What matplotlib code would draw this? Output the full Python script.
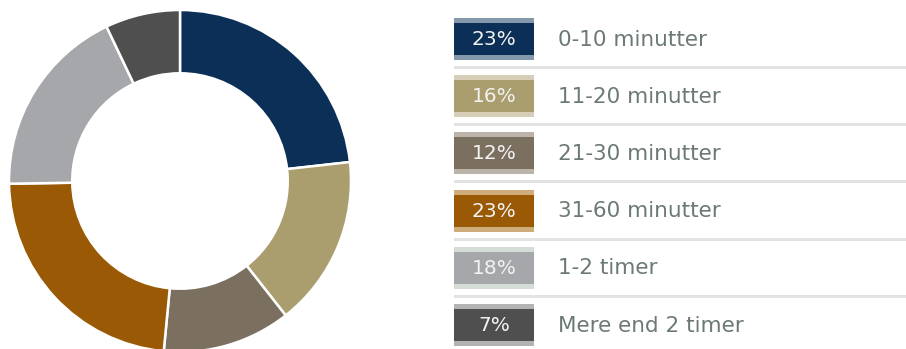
import matplotlib
matplotlib.use("Agg")
import matplotlib.pyplot as plt
from matplotlib.patches import Rectangle

categories = ["0-10 minutter", "11-20 minutter", "21-30 minutter", "31-60 minutter", "1-2 timer", "Mere end 2 timer"]
values = [23, 16, 12, 23, 18, 7]
colors = ["#0b2f56", "#aa9e6e", "#7b6f60", "#9a5a05", "#a6a7aa", "#4f4f4f"]
band_colors = ["#8398ab", "#d6cfb8", "#bcb3aa", "#cfac7c", "#d6dcd6", "#b3b3b3"]

W, H = 906, 349
fig = plt.figure(figsize=(W / 100, H / 100), dpi=100)
ax = fig.add_axes([0, 0, 1, 1])
ax.set_xlim(0, W)
ax.set_ylim(0, H)
ax.axis("off")

# donut
cx, cy, r = 180, H - 181, 171
ax.pie(values, colors=colors, startangle=90, counterclock=False,
       center=(cx, cy), radius=r, frame=True,
       wedgeprops=dict(width=r * 0.37, edgecolor="white", linewidth=1.8))
ax.set_xlim(0, W)
ax.set_ylim(0, H)
ax.axis("off")

# legend
x0, bw = 454, 80
pitch = 57.2
for i, (cat, v, c, bc) in enumerate(zip(categories, values, colors, band_colors)):
    top = 18 + pitch * i
    ax.add_patch(Rectangle((x0, H - (top + 42)), bw, 42, facecolor=bc, edgecolor="none"))
    ax.add_patch(Rectangle((x0, H - (top + 37)), bw, 32, facecolor=c, edgecolor="none"))
    yc = H - (top + 21.5)
    ax.text(x0 + bw / 2, yc, f"{v}%", color="#f2f2f2", fontsize=14.5,
            ha="center", va="center", family="DejaVu Sans")
    ax.text(558, yc, cat, color="#6b7a72", fontsize=15.5,
            ha="left", va="center", family="DejaVu Sans")
    if i < len(categories) - 1:
        ys = H - (top + 49.5)
        ax.add_patch(Rectangle((x0, ys - 1.5), W - x0, 3, facecolor="#e3e3e3", edgecolor="none"))

fig.savefig("out.png", dpi=100)
